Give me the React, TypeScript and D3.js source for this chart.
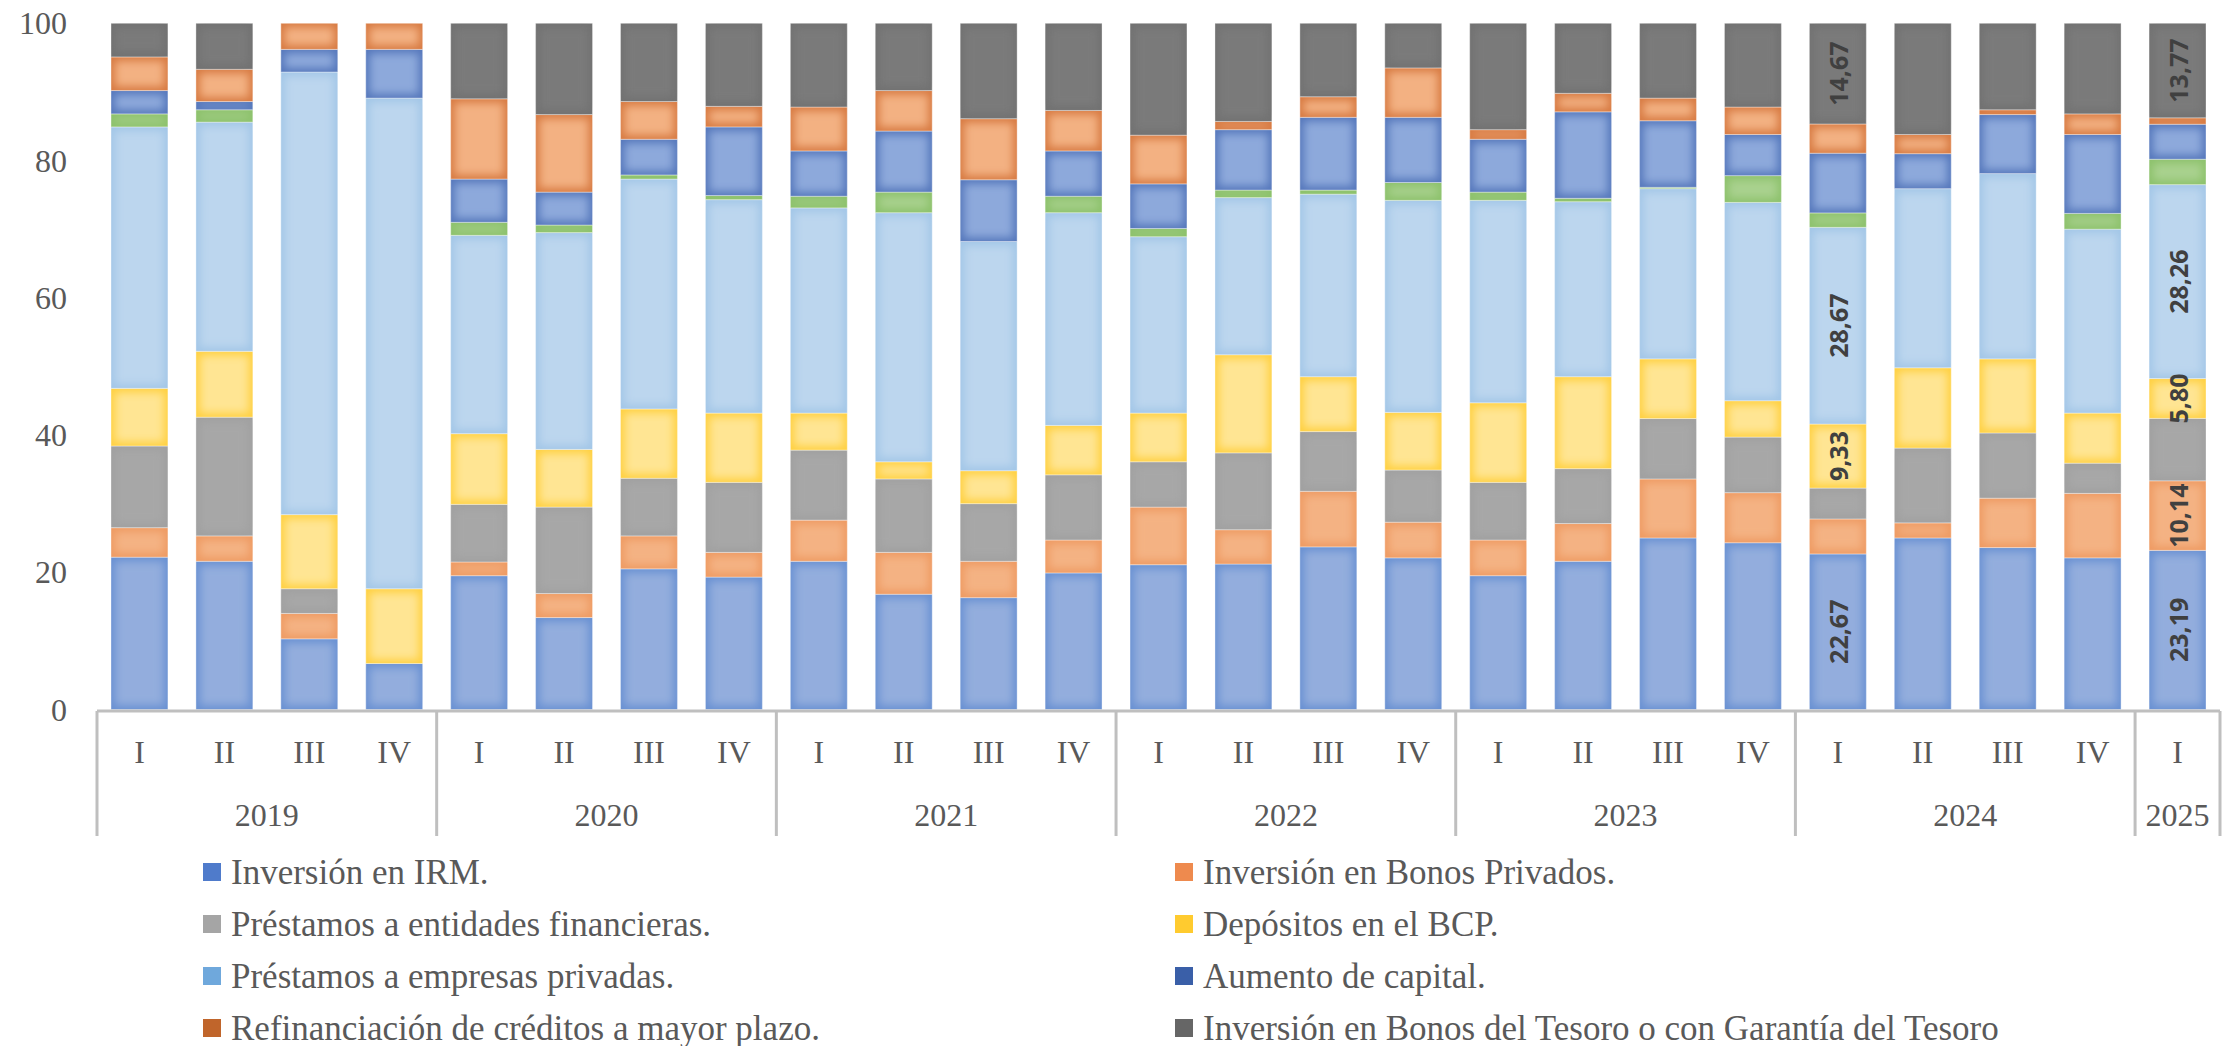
import { scaleBand, scaleLinear, stack, format } from 'd3'

const width = 2234
const height = 1046

const years = ['2019', '2019', '2019', '2019', '2020', '2020', '2020', '2020', '2021', '2021', '2021', '2021', '2022', '2022', '2022', '2022', '2023', '2023', '2023', '2023', '2024', '2024', '2024', '2024', '2025']
const quarters = ['I', 'II', 'III', 'IV', 'I', 'II', 'III', 'IV', 'I', 'II', 'III', 'IV', 'I', 'II', 'III', 'IV', 'I', 'II', 'III', 'IV', 'I', 'II', 'III', 'IV', 'I']

// stack order, bottom to top
const irm = [22.2, 21.6, 10.3, 6.7, 19.5, 13.4, 20.5, 19.3, 21.6, 16.8, 16.3, 19.9, 21.1, 21.2, 23.7, 22.1, 19.5, 21.6, 25.0, 24.3, 22.67, 25.0, 23.6, 22.1, 23.19]
const bonosPrivados = [4.3, 3.7, 3.7, 0, 2.0, 3.5, 4.8, 3.6, 6.0, 6.1, 5.3, 4.8, 8.4, 5.0, 8.1, 5.2, 5.2, 5.5, 8.6, 7.3, 5.1, 2.2, 7.2, 9.4, 10.14]
const prestEntidades = [11.9, 17.3, 3.6, 0, 8.4, 12.6, 8.4, 10.2, 10.2, 10.7, 8.4, 9.5, 6.6, 11.2, 8.7, 7.6, 8.4, 8.0, 8.8, 8.1, 4.5, 10.9, 9.5, 4.4, 9.1]
const depositosBcp = [8.4, 9.6, 10.8, 10.9, 10.3, 8.4, 10.1, 10.1, 5.4, 2.5, 4.8, 7.2, 7.1, 14.3, 8.0, 8.4, 11.6, 13.4, 8.7, 5.3, 9.33, 11.7, 10.8, 7.3, 5.8]
const prestEmpresas = [38.1, 33.4, 64.5, 71.5, 28.9, 31.6, 33.5, 31.1, 29.9, 36.3, 33.4, 31.0, 25.7, 22.9, 26.6, 30.9, 29.5, 25.5, 24.8, 28.9, 28.67, 26.1, 27.0, 26.8, 28.26]
const otros = [1.9, 1.8, 0, 0, 1.9, 1.1, 0.6, 0.6, 1.7, 3.0, 0, 2.4, 1.2, 1.1, 0.6, 2.6, 1.2, 0.5, 0.2, 3.9, 2.1, 0, 0, 2.3, 3.7]
const aumentoCapital = [3.4, 1.2, 3.3, 7.1, 6.3, 4.8, 5.2, 10.0, 6.6, 8.9, 9.0, 6.6, 6.5, 8.8, 10.6, 9.5, 7.7, 12.6, 9.7, 6.0, 8.7, 5.1, 8.6, 11.5, 5.1]
const refinanciacion = [4.9, 4.7, 3.8, 3.8, 11.7, 11.3, 5.5, 3.0, 6.4, 5.9, 8.9, 5.9, 7.1, 1.2, 3.0, 7.2, 1.4, 2.7, 3.3, 4.0, 4.26, 2.8, 0.7, 3.0, 0.94]
const tesoro = [4.9, 6.7, 0, 0, 11.0, 13.3, 11.4, 12.1, 12.2, 9.8, 13.9, 12.7, 16.3, 14.3, 10.7, 6.5, 15.5, 10.2, 10.9, 12.2, 14.67, 16.2, 12.6, 13.2, 13.77]

const seriesNames = [
  'Inversión en IRM.',
  'Inversión en Bonos Privados.',
  'Préstamos a entidades financieras.',
  'Depósitos en el BCP.',
  'Préstamos a empresas privadas.',
  '',
  'Aumento de capital.',
  'Refinanciación de créditos a mayor plazo.',
  'Inversión en Bonos del Tesoro o con Garantía del Tesoro',
]
const seriesValues = [irm, bonosPrivados, prestEntidades, depositosBcp, prestEmpresas, otros, aumentoCapital, refinanciacion, tesoro]
const edgeColors = ['#6890D2', '#EE9A62', '#A0A0A0', '#FFD040', '#A2C6E7', '#8CC16B', '#5577BB', '#D77A42', '#717171']
const centerColors = ['#93ADDD', '#F4B283', '#A7A7A7', '#FFE593', '#BCD6EE', '#A9D18E', '#8DA9DB', '#F3B182', '#7A7A7A']
const legendColors = ['#4F7BCB', '#EE8A4E', '#A5A5A5', '#FFCB2F', '#6FA8DC', '#70AD47', '#3A5FA8', '#C0652B', '#666666']

// data labels shown in the original
const labelledBars = [
  { bar: 20, series: [0, 3, 4, 8] },
  { bar: 24, series: [0, 1, 3, 4, 8] },
]

const yTicks = [0, 20, 40, 60, 80, 100]

const serif = '"Liberation Serif", "Times New Roman", serif'
const textColor = '#595959'
const axisColor = '#BFBFBF'

const keys = quarters.map((q, i) => `${years[i]}-${q}-${i}`)
const rows = keys.map((k, i) => {
  const row: Record<string, number | string> = { key: k }
  seriesValues.forEach((s, j) => (row[`s${j}`] = s[i]))
  return row
})
const stackKeys = seriesValues.map((_, j) => `s${j}`)
const stacked = stack<any>().keys(stackKeys)(rows)

const x = scaleBand().domain(keys).range([97, 2220]).paddingInner(0.33).paddingOuter(0.165)
const y = scaleLinear().domain([0, 100]).range([709.5, 23.3])

const fmt = (v: number) => format('.2f')(v).replace('.', ',')

const yearGroups = Array.from(new Set(years)).map((yr) => {
  const idx = years.map((v, i) => (v === yr ? i : -1)).filter((i) => i >= 0)
  return { year: yr, first: idx[0], last: idx[idx.length - 1] }
})

function App() {
  const step = x.step()
  const left = x.range()[0]
  const inset = 4
  return (
    <svg width={width} height={height} style={{ position: 'absolute', left: 0, top: 0, background: '#fff' }}>
      <defs>
        <filter id="soft" x="-5%" y="-5%" width="110%" height="110%">
          <feGaussianBlur stdDeviation={4} />
        </filter>
        {stacked.map((layer, j) => (
          <clipPath id={`clip-${j}`} key={j}>
            {layer.map((d, i) => (
              <rect key={i} x={x(keys[i])} y={y(d[1])} width={x.bandwidth()} height={Math.max(0, y(d[0]) - y(d[1]))} />
            ))}
          </clipPath>
        ))}
      </defs>

      {/* bars */}
      {stacked.map((layer, j) => (
        <g key={j}>
          {layer.map((d, i) => {
            const h = y(d[0]) - y(d[1])
            if (h <= 0) return null
            return (
              <rect key={i} x={x(keys[i])} y={y(d[1])} width={x.bandwidth()} height={h}
                fill={edgeColors[j]} stroke="#ffffff" strokeOpacity={0.4} strokeWidth={1} />
            )
          })}
          <g clipPath={`url(#clip-${j})`}>
            <g filter="url(#soft)">
              {layer.map((d, i) => {
                const h = y(d[0]) - y(d[1])
                const ins = Math.min(inset, h / 3)
                if (h - 2 * ins <= 0.5) return null
                return (
                  <rect key={i} x={(x(keys[i]) as number) + inset} y={y(d[1]) + ins}
                    width={x.bandwidth() - 2 * inset} height={h - 2 * ins} fill={centerColors[j]} />
                )
              })}
            </g>
          </g>
        </g>
      ))}

      {/* data labels */}
      {labelledBars.map((lb) =>
        lb.series.map((j) => {
          const d = stacked[j][lb.bar]
          const cx = (x(keys[lb.bar]) as number) + x.bandwidth() / 2
          const cy = (y(d[0]) + y(d[1])) / 2
          return (
            <text key={`${lb.bar}-${j}`} transform={`translate(${cx},${cy}) rotate(-90)`}
              textAnchor="middle" dominantBaseline="central"
              style={{ fontFamily: '"Open Sans", sans-serif', fontWeight: 700, fontSize: 25, fill: '#404040' }}>
              {fmt(seriesValues[j][lb.bar])}
            </text>
          )
        })
      )}

      {/* y axis labels */}
      {yTicks.map((t) => (
        <text key={t} x={67} y={y(t)} textAnchor="end" dominantBaseline="central"
          style={{ fontFamily: serif, fontSize: 32, fill: textColor }}>
          {t}
        </text>
      ))}

      {/* x axis */}
      <line x1={left} x2={x.range()[1]} y1={711} y2={711} stroke={axisColor} strokeWidth={3} />
      {yearGroups.map((g) => (
        <line key={g.year} x1={left + g.first * step} x2={left + g.first * step} y1={711} y2={836} stroke={axisColor} strokeWidth={3} />
      ))}
      <line x1={x.range()[1]} x2={x.range()[1]} y1={711} y2={836} stroke={axisColor} strokeWidth={3} />
      {keys.map((k, i) => (
        <text key={k} x={(x(k) as number) + x.bandwidth() / 2} y={752} textAnchor="middle" dominantBaseline="central"
          style={{ fontFamily: serif, fontSize: 32, fill: textColor }}>
          {quarters[i]}
        </text>
      ))}
      {yearGroups.map((g) => (
        <text key={g.year} x={left + ((g.first + g.last + 1) / 2) * step} y={815} textAnchor="middle" dominantBaseline="central"
          style={{ fontFamily: serif, fontSize: 32, fill: textColor }}>
          {g.year}
        </text>
      ))}

      {/* legend */}
      {seriesNames
        .map((name, j) => ({ name, j }))
        .filter((d) => d.name !== '')
        .map((d, k) => {
          const col = k % 2
          const row = Math.floor(k / 2)
          const lx = col === 0 ? 203 : 1175
          const ly = 872 + row * 52
          return (
            <g key={d.j}>
              <rect x={lx} y={ly - 9} width={18} height={18} fill={legendColors[d.j]} />
              <text x={lx + 28} y={ly} dominantBaseline="central"
                style={{ fontFamily: serif, fontSize: 35, fill: textColor }}>
                {d.name}
              </text>
            </g>
          )
        })}
    </svg>
  )
}

export default App
